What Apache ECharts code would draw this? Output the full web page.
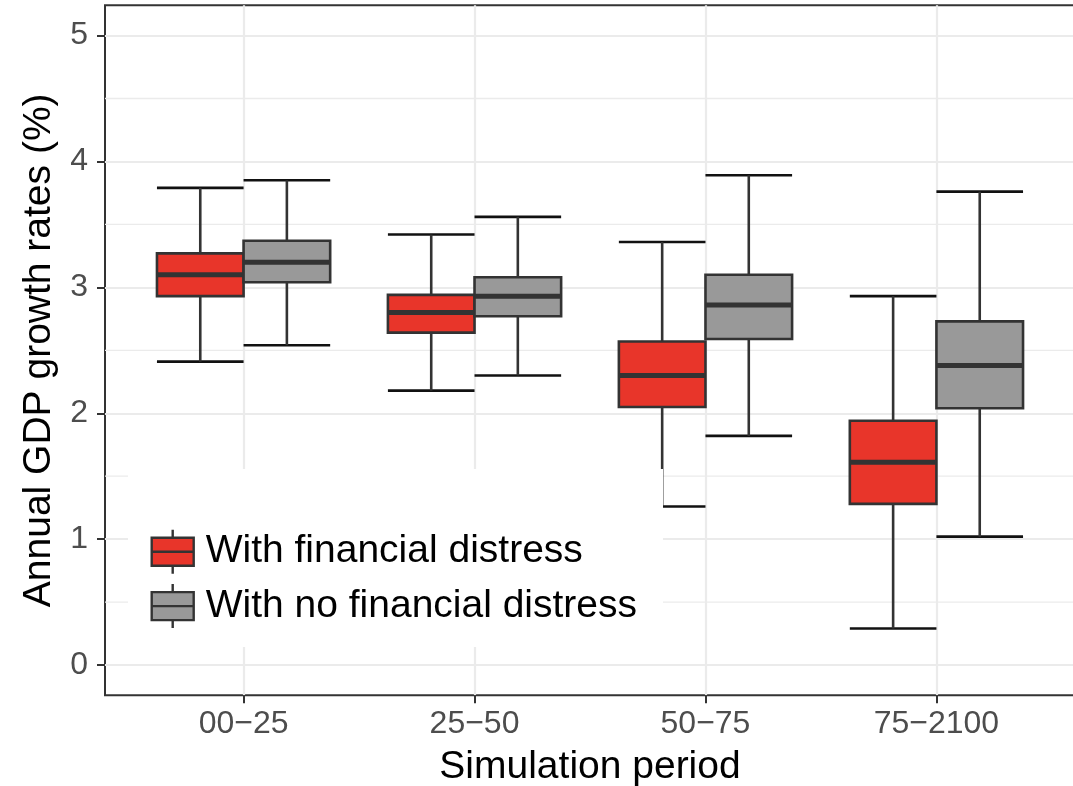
<!DOCTYPE html>
<html>
<head>
<meta charset="utf-8">
<style>
  html, body { margin: 0; padding: 0; background: #ffffff; }
  #chart { width: 1073px; height: 786px; }
</style>
<script src="https://cdn.jsdelivr.net/npm/echarts@6/dist/echarts.min.js"></script>
</head>
<body>
<div id="chart"></div>
<script>
// Simulation periods (x categories)
const periods = ['00\u221225', '25\u221250', '50\u221275', '75\u22122100'];

// Series names
const seriesNames = ['With financial distress', 'With no financial distress'];

// Box statistics per period: lower whisker, Q1, median, Q3, upper whisker
const fdLow  = [2.41, 2.18, 1.26, 0.29];
const fdQ1   = [2.93, 2.64, 2.05, 1.28];
const fdMed  = [3.10, 2.80, 2.30, 1.61];
const fdQ3   = [3.27, 2.94, 2.57, 1.94];
const fdHigh = [3.79, 3.42, 3.36, 2.93];

const nfdLow  = [2.54, 2.30, 1.82, 1.02];
const nfdQ1   = [3.04, 2.77, 2.59, 2.04];
const nfdMed  = [3.20, 2.93, 2.86, 2.38];
const nfdQ3   = [3.37, 3.08, 3.10, 2.73];
const nfdHigh = [3.85, 3.56, 3.89, 3.76];

// Axis ticks
const yTicks = [0, 1, 2, 3, 4, 5];
const yMinorGrid = [0.5, 1.5, 2.5, 3.5, 4.5];
const xTicks = [1, 2, 3, 4];

const fills = ['#E8352A', '#999999'];
const dodge = [-0.1875, 0.1875];
const boxWidth = 0.375;

function boxRows(low, q1, med, q3, high) {
  return periods.map((p, i) => [i + 1, low[i], q1[i], med[i], q3[i], high[i]]);
}

// Draws one dodged box-and-whisker per period for group g
function makeBoxRenderer(g) {
  return function (params, api) {
    const cx = api.value(0) + dodge[g];
    const half = api.size([boxWidth, 0])[0] / 2;
    const pLow = api.coord([cx, api.value(1)]);
    const pQ1 = api.coord([cx, api.value(2)]);
    const pMed = api.coord([cx, api.value(3)]);
    const pQ3 = api.coord([cx, api.value(4)]);
    const pHigh = api.coord([cx, api.value(5)]);
    const x = pMed[0];
    const capStyle = { stroke: '#111111', lineWidth: 2.6 };
    const whiskStyle = { stroke: '#333333', lineWidth: 2.6 };
    return {
      type: 'group',
      children: [
        { type: 'line', shape: { x1: x - half, y1: pHigh[1], x2: x + half, y2: pHigh[1] }, style: capStyle },
        { type: 'line', shape: { x1: x - half, y1: pLow[1], x2: x + half, y2: pLow[1] }, style: capStyle },
        { type: 'line', shape: { x1: x, y1: pHigh[1], x2: x, y2: pQ3[1] }, style: whiskStyle },
        { type: 'line', shape: { x1: x, y1: pQ1[1], x2: x, y2: pLow[1] }, style: whiskStyle },
        {
          type: 'rect',
          shape: { x: x - half, y: pQ3[1], width: half * 2, height: pQ1[1] - pQ3[1] },
          style: { fill: fills[g], stroke: '#333333', lineWidth: 2.6 }
        },
        { type: 'line', shape: { x1: x - half, y1: pMed[1], x2: x + half, y2: pMed[1] }, style: { stroke: '#333333', lineWidth: 5 } }
      ]
    };
  };
}

// Legend key: a small box with median and whisker stubs
const keyIcon = 'path://M21,0L21,8M0,8L42,8L42,36L0,36ZM0,22L42,22M21,36L21,44';

const chart = echarts.init(document.getElementById('chart'), null, { renderer: 'canvas' });

chart.setOption({
  backgroundColor: '#ffffff',
  animation: false,
  textStyle: { fontFamily: 'Liberation Sans, Arial, Helvetica, sans-serif' },
  grid: {
    left: 105, right: -2, top: 5.3, bottom: 90.7,
    outerBoundsMode: 'none', containLabel: false,
    show: true, borderColor: '#333333', borderWidth: 2, backgroundColor: 'transparent'
  },
  xAxis: {
    type: 'value', min: 0.4, max: 4.6,
    axisLine: { show: false, onZero: false },
    axisTick: { customValues: xTicks, length: 8, lineStyle: { color: '#333333', width: 2 } },
    axisLabel: {
      customValues: xTicks, margin: 13, fontSize: 32, color: '#4d4d4d',
      formatter: v => periods[Math.round(v) - 1]
    },
    splitLine: { show: true, lineStyle: { color: '#ebebeb', width: 2.2 } },
    name: 'Simulation period', nameLocation: 'middle', nameGap: 52,
    nameTextStyle: { fontSize: 39, color: '#000000' }
  },
  yAxis: {
    type: 'value', min: -0.24, max: 5.24,
    axisLine: { show: false, onZero: false },
    axisTick: { show: true, customValues: yTicks, length: 8, lineStyle: { color: '#333333', width: 2 } },
    axisLabel: { customValues: yTicks, margin: 17, fontSize: 32, color: '#4d4d4d' },
    splitLine: { show: true, lineStyle: { color: '#ebebeb', width: 2.2 } },
    name: 'Annual GDP growth rates (%)', nameLocation: 'middle', nameGap: 46,
    nameTextStyle: { fontSize: 39, color: '#000000' }
  },
  legend: {
    orient: 'vertical', left: 150.5, top: 528.5, padding: 0,
    itemWidth: 42, itemHeight: 44, itemGap: 8,
    selectedMode: false,
    textStyle: { fontSize: 39, color: '#000000', padding: [0, 0, 0, 7] },
    data: seriesNames.map((n, i) => ({
      name: n, icon: keyIcon,
      itemStyle: { color: fills[i], borderColor: '#333333', borderWidth: 2.4 }
    }))
  },
  graphic: [{
    // legend background panel
    type: 'rect', left: 128, top: 469, z: 3, silent: true,
    shape: { width: 535, height: 178 },
    style: { fill: '#ffffff' }
  }],
  series: [
    {
      name: 'minor grid', type: 'custom', silent: true, z: 0,
      data: yMinorGrid.map(v => [v]),
      encode: { y: 0 },
      renderItem(params, api) {
        const cs = params.coordSys;
        const p = api.coord([1, api.value(0)]);
        return {
          type: 'line',
          shape: { x1: cs.x, y1: p[1], x2: cs.x + cs.width, y2: p[1] },
          style: { stroke: '#ebebeb', lineWidth: 1.3 }
        };
      }
    },
    {
      name: seriesNames[0], type: 'custom', z: 2,
      data: boxRows(fdLow, fdQ1, fdMed, fdQ3, fdHigh),
      encode: { x: 0, y: [1, 2, 3, 4, 5] },
      itemStyle: { color: fills[0] },
      renderItem: makeBoxRenderer(0)
    },
    {
      name: seriesNames[1], type: 'custom', z: 2,
      data: boxRows(nfdLow, nfdQ1, nfdMed, nfdQ3, nfdHigh),
      encode: { x: 0, y: [1, 2, 3, 4, 5] },
      itemStyle: { color: fills[1] },
      renderItem: makeBoxRenderer(1)
    }
  ]
});
</script>
</body>
</html>
